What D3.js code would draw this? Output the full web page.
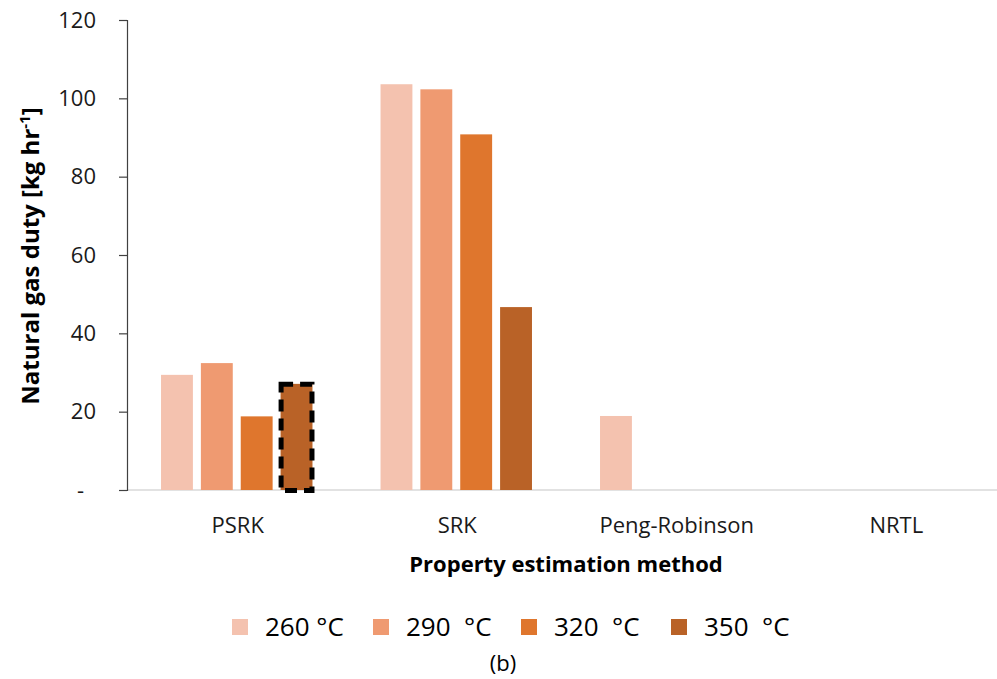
<!DOCTYPE html>
<html>
<head>
<meta charset="utf-8">
<script src="https://cdn.jsdelivr.net/npm/d3@7"></script>
<style>
  html, body { margin: 0; padding: 0; background: #fff; }
  svg { display: block; font-family: "Open Sans", "Noto Sans", sans-serif; }
</style>
</head>
<body>
<svg id="chart" width="997" height="679"></svg>
<script>
// Property estimation methods and operating temperatures
const methods = ["PSRK", "SRK", "Peng-Robinson", "NRTL"];
const temps = ["260 °C", "290  °C", "320  °C", "350  °C"];
const colors = ["#f4c2af", "#ef9a71", "#df762d", "#b96227"];

// Natural gas duty [kg/hr] per method, one value per temperature
const psrk = [29.4, 32.4, 18.8, 27.1];
const srk = [103.6, 102.3, 90.8, 46.7];
const pengRobinson = [18.9, 0, 0, 0];
const nrtl = [0, 0, 0, 0];
const duty = [psrk, srk, pengRobinson, nrtl];

const yTicks = [0, 20, 40, 60, 80, 100, 120];

// Bar that gets a dashed outline (PSRK at 350 °C)
const highlighted = { method: "PSRK", temp: "350  °C" };

const svg = d3.select("#chart");
const plotLeft = 127, plotRight = 1005, plotTop = 20, plotBottom = 490;

const x0 = d3.scaleBand().domain(methods).range([plotLeft, plotRight])
  .paddingInner(0.31).paddingOuter(0.155);
const x1 = d3.scaleBand().domain(temps).range([0, x0.bandwidth()]).paddingInner(0.2);
const y = d3.scaleLinear().domain([0, 120]).range([plotBottom, plotTop]);

// Baseline
svg.append("line")
  .attr("x1", plotLeft).attr("x2", 997)
  .attr("y1", y(0)).attr("y2", y(0))
  .attr("stroke", "#d9d9d9").attr("stroke-width", 1.5);

// Bars
const rows = methods.map((m, i) => ({ method: m, values: temps.map((t, j) => ({ method: m, temp: t, value: duty[i][j], color: colors[j] })) }));
const groups = svg.append("g").selectAll("g").data(rows).join("g")
  .attr("transform", d => `translate(${x0(d.method)},0)`);
groups.selectAll("rect").data(d => d.values.filter(v => v.value > 0)).join("rect")
  .attr("x", d => x1(d.temp))
  .attr("width", x1.bandwidth())
  .attr("y", d => y(d.value))
  .attr("height", d => y(0) - y(d.value))
  .attr("fill", d => d.color);

// Dashed outline on the highlighted bar
const hv = duty[methods.indexOf(highlighted.method)][temps.indexOf(highlighted.temp)];
svg.append("rect")
  .attr("x", x0(highlighted.method) + x1(highlighted.temp) + 0.5)
  .attr("width", x1.bandwidth() - 1)
  .attr("y", y(hv) + 0.5)
  .attr("height", y(0) - y(hv))
  .attr("fill", "none")
  .attr("stroke", "#000")
  .attr("stroke-width", 5)
  .attr("stroke-dasharray", "12,7");

// Y axis
const yAxis = svg.append("g")
  .attr("transform", `translate(${plotLeft},0)`)
  .call(d3.axisLeft(y).tickValues(yTicks).tickSize(8).tickPadding(23)
    .tickFormat(d => d === 0 ? "-" : d));
yAxis.select(".domain").attr("stroke", "#404040").attr("stroke-width", 1.2);
yAxis.selectAll(".tick line").attr("stroke", "#404040").attr("stroke-width", 1.2);
yAxis.selectAll(".tick text")
  .attr("font-size", 22).attr("fill", "#1a1a1a").attr("font-family", "Open Sans")
  .attr("dx", d => d === 0 ? -12 : 0);

// Category labels
svg.append("g").selectAll("text").data(methods).join("text")
  .attr("x", d => x0(d) + x0.bandwidth() / 2 + 1)
  .attr("y", 533)
  .attr("text-anchor", "middle")
  .attr("font-size", 22).attr("fill", "#1a1a1a")
  .text(d => d);

// Axis titles
svg.append("text")
  .attr("x", 566).attr("y", 572)
  .attr("text-anchor", "middle")
  .attr("font-size", 22).attr("font-weight", "bold").attr("fill", "#000")
  .text("Property estimation method");

const yt = svg.append("text")
  .attr("transform", "translate(39,256) rotate(-90)")
  .attr("text-anchor", "middle")
  .attr("font-size", 24).attr("font-weight", "bold").attr("fill", "#000");
yt.append("tspan").text("Natural gas duty [kg hr");
yt.append("tspan").attr("dy", -9).attr("font-size", 15).text("-1");
yt.append("tspan").attr("dy", 9).text("]");

// Legend
const legendX = [232, 373, 521, 671];
const lg = svg.append("g").selectAll("g").data(temps).join("g")
  .attr("transform", (d, i) => `translate(${legendX[i]},619)`);
lg.append("rect").attr("width", 16).attr("height", 16).attr("fill", (d, i) => colors[i]);
lg.append("text")
  .attr("x", 33).attr("y", 17)
  .attr("font-size", 26).attr("fill", "#000")
  .style("white-space", "pre")
  .text(d => d);

// Panel label
svg.append("text")
  .attr("x", 503).attr("y", 671)
  .attr("text-anchor", "middle")
  .attr("font-size", 22).attr("fill", "#000")
  .text("(b)");
</script>
</body>
</html>
